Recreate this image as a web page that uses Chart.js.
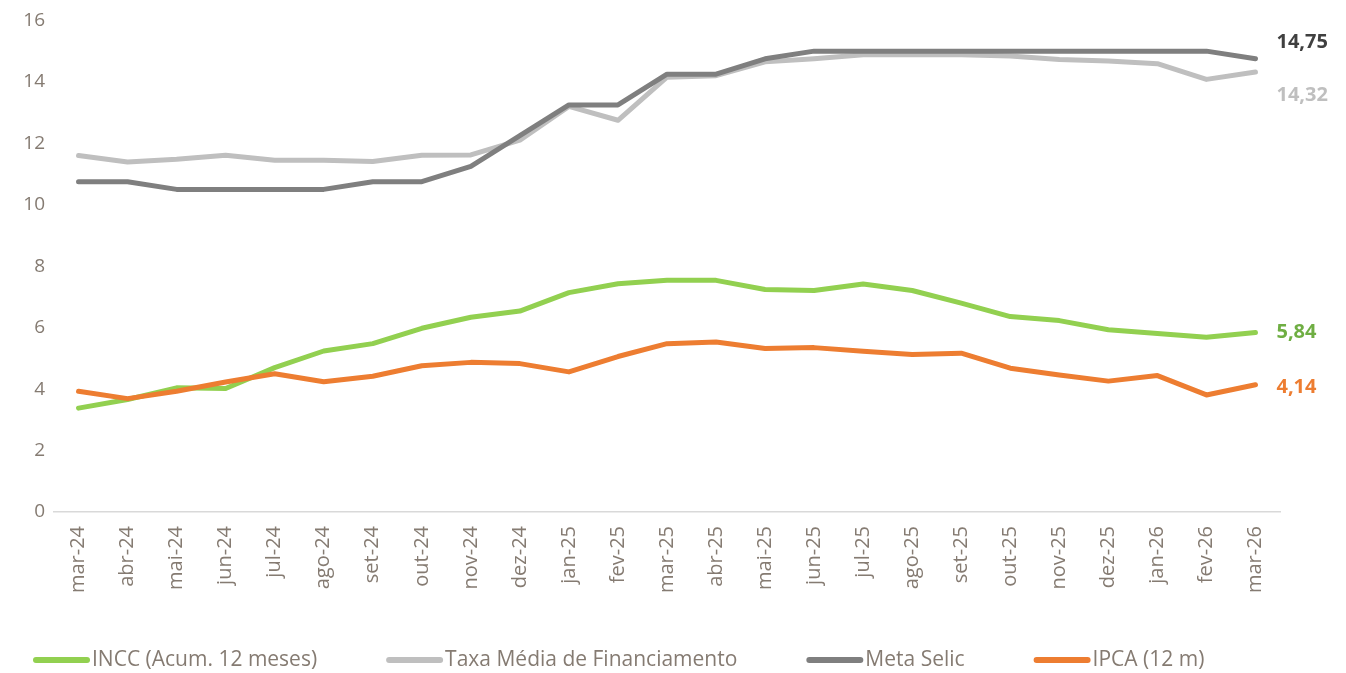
<!DOCTYPE html>
<html>
<head>
<meta charset="utf-8">
<script src="https://cdn.jsdelivr.net/npm/chart.js@4/dist/chart.umd.min.js"></script>
<style>
  html,body{margin:0;padding:0;background:#fff;}
  #wrap{width:1346px;height:673px;position:relative;}
</style>
</head>
<body>
<div id="wrap"><canvas id="c" width="1346" height="673"></canvas></div>
<script>
const categories = ['mar-24','abr-24','mai-24','jun-24','jul-24','ago-24','set-24','out-24','nov-24','dez-24','jan-25','fev-25','mar-25','abr-25','mai-25','jun-25','jul-25','ago-25','set-25','out-25','nov-25','dez-25','jan-26','fev-26','mar-26'];

const incc = [3.38,3.66,4.04,4.02,4.70,5.24,5.48,5.98,6.34,6.54,7.14,7.43,7.54,7.54,7.24,7.21,7.42,7.21,6.80,6.36,6.23,5.93,5.81,5.69,5.84];
const taxaMedia = [11.60,11.39,11.48,11.61,11.45,11.45,11.41,11.61,11.62,12.10,13.20,12.75,14.15,14.20,14.65,14.75,14.88,14.88,14.88,14.84,14.73,14.68,14.59,14.08,14.32];
const metaSelic = [10.75,10.75,10.50,10.50,10.50,10.50,10.75,10.75,11.25,12.25,13.25,13.25,14.25,14.25,14.75,15.00,15.00,15.00,15.00,15.00,15.00,15.00,15.00,15.00,14.75];
const ipca = [3.93,3.69,3.93,4.23,4.50,4.24,4.42,4.76,4.87,4.83,4.56,5.06,5.48,5.53,5.32,5.35,5.23,5.13,5.17,4.68,4.46,4.26,4.44,3.81,4.14];

const seriesNames = ['INCC (Acum. 12 meses)','Taxa Média de Financiamento','Meta Selic','IPCA (12 m)'];
const yTicks = [0,2,4,6,8,10,12,14,16];

const colors = ['#92D050','#BFBFBF','#7F7F7F','#ED7D31'];
const labelColors = ['#6FAE43','#BFBFBF','#404040','#ED7D31'];
const labelOffsets = [0, 23, -17, 2];
const tickColor = '#857B72';
const FONT = "'Open Sans', 'DejaVu Sans', sans-serif";

const endLabels = {
  id:'endLabels',
  afterDatasetsDraw(chart){
    const ctx = chart.ctx;
    ctx.save();
    ctx.font = "bold 20px " + FONT;
    ctx.textAlign = 'left';
    ctx.textBaseline = 'middle';
    chart.data.datasets.forEach((ds, i) => {
      const meta = chart.getDatasetMeta(i);
      const pt = meta.data[meta.data.length - 1];
      const v = ds.data[ds.data.length - 1];
      ctx.fillStyle = labelColors[i];
      ctx.fillText(v.toFixed(2).replace('.', ','), pt.x + 21, pt.y + labelOffsets[i]);
    });
    ctx.restore();
  }
};

// legend drawn on the chart canvas, one row under the x labels
const rowLegend = {
  id:'rowLegend',
  afterDraw(chart){
    const ctx = chart.ctx;
    ctx.save();
    ctx.font = "21px " + FONT;
    ctx.textBaseline = 'middle';
    ctx.textAlign = 'left';
    const y = 660, lineLen = 57, textGap = 2, itemGap = 69;
    let x = 33;
    chart.data.datasets.forEach((ds, i) => {
      ctx.strokeStyle = colors[i];
      ctx.lineWidth = 6;
      ctx.lineCap = 'round';
      ctx.beginPath();
      ctx.moveTo(x + 3, y);
      ctx.lineTo(x + lineLen - 3, y);
      ctx.stroke();
      ctx.fillStyle = tickColor;
      const tx = x + lineLen + textGap;
      ctx.fillText(ds.label, tx, y);
      x = tx + ctx.measureText(ds.label).width + itemGap;
    });
    ctx.restore();
  }
};

const mk = (i, data, order) => ({
  label: seriesNames[i],
  data: data,
  borderColor: colors[i],
  backgroundColor: colors[i],
  borderWidth: 5,
  borderCapStyle: 'round',
  borderJoinStyle: 'round',
  pointRadius: 0,
  pointHoverRadius: 0,
  tension: 0,
  fill: false,
  order: order
});

new Chart(document.getElementById('c'), {
  type: 'line',
  data: {
    labels: categories,
    datasets: [mk(0, incc, 3), mk(1, taxaMedia, 2), mk(2, metaSelic, 1), mk(3, ipca, 0)]
  },
  options: {
    responsive: false,
    animation: false,
    layout: { padding: { left: 0, right: 66, top: 14, bottom: 0 } },
    plugins: {
      tooltip: { enabled: false },
      legend: { display: false }
    },
    scales: {
      x: {
        offset: true,
        grid: { display: false, drawTicks: false },
        border: { display: true, color: '#D9D9D9', width: 1.5 },
        ticks: {
          color: tickColor,
          font: { family: FONT, size: 20 },
          minRotation: 90,
          maxRotation: 90,
          autoSkip: false,
          padding: 14
        },
        afterFit(scale){ scale.height = 161; }
      },
      y: {
        min: 0,
        max: 16,
        afterBuildTicks(scale){ scale.ticks = yTicks.map(v => ({ value: v })); },
        grid: { display: false, drawTicks: false },
        border: { display: false },
        ticks: {
          color: tickColor,
          font: { family: FONT, size: 19 },
          padding: 9
        },
        afterFit(scale){ scale.width = 54; }
      }
    }
  },
  plugins: [endLabels, rowLegend]
});
</script>
</body>
</html>
